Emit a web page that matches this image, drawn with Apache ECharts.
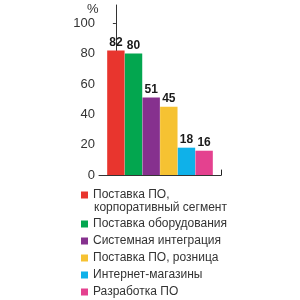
<!DOCTYPE html>
<html><head><meta charset="utf-8">
<script src="https://cdn.jsdelivr.net/npm/echarts@6/dist/echarts.min.js"></script>
<style>html,body{margin:0;padding:0;background:#fff}#c{width:300px;height:300px}</style>
</head><body><div id="c"></div>
<script>
const categories = ["Поставка ПО, корпоративный сегмент", "Поставка оборудования", "Системная интеграция", "Поставка ПО, розница", "Интернет-магазины", "Разработка ПО"];
const firstLegendLine = "Поставка ПО,";
const secondLegendLine = "корпоративный сегмент";
const values = [82, 80, 51, 45, 18, 16];
const colors = ["#e8352e", "#03a64f", "#86318e", "#f6c232", "#0fb1e9", "#e4418f"];
const yTicks = [0, 20, 40, 60, 80, 100];

const FONT = "Liberation Sans";
const NARROW = "'Liberation Sans Narrow', 'Liberation Sans'";
const X_MIN = -0.957, X_MAX = 5.957;
const chart = echarts.init(document.getElementById('c'), null, {renderer: 'canvas'});
const series = categories.map((name, i) => ({
  type: 'bar', name: name, stack: 'all', barWidth: 17.4,
  xAxisIndex: 0, yAxisIndex: 0,
  data: [[i, values[i]]],
  itemStyle: {color: colors[i]},
  label: {show: true, position: 'top', distance: 2, fontFamily: FONT, fontWeight: 'bold', fontSize: 12, color: '#1a1a1a', formatter: p => String(p.value[1])}
}));
const legendText = {fontFamily: FONT, fontSize: 12, color: '#333', lineHeight: 14};
const hidden = {show: false};
chart.setOption({
  animation: false,
  title: [
    {text: '%', left: 87, top: 3, padding: 0, textStyle: {fontFamily: NARROW, fontSize: 13, fontWeight: 'normal', color: '#333'}},
    {text: secondLegendLine, left: 94, top: 201, padding: 0, textStyle: Object.assign({fontWeight: 'normal'}, legendText)}
  ],
  grid: [
    {left: 99, right: 79, top: 5, bottom: 125},
    {left: 99, right: 79, top: 170, bottom: 125}
  ],
  xAxis: [
    {gridIndex: 0, type: 'value', min: X_MIN, max: X_MAX, splitLine: hidden,
      axisLine: {show: true, lineStyle: {color: '#333', width: 1}},
      axisLabel: hidden, axisTick: hidden},
    {gridIndex: 1, type: 'value', min: 0, max: 1, show: false}
  ],
  yAxis: [
    {gridIndex: 0, type: 'value', min: 0, max: 112, interval: 20, splitLine: hidden,
      axisLine: {show: true, lineStyle: {color: '#333', width: 1}},
      axisTick: {show: true, length: 3, customValues: yTicks, lineStyle: {color: '#333'}},
      axisLabel: {customValues: yTicks, margin: 4, fontFamily: NARROW, fontSize: 13, color: '#333'}},
    {gridIndex: 1, type: 'value', position: 'right', min: 0, max: 1, splitLine: hidden,
      axisLine: {show: true, onZero: false, lineStyle: {color: '#222', width: 1}},
      axisTick: hidden, axisLabel: hidden}
  ],
  legend: [
    {orient: 'vertical', left: 81, top: 188, padding: 0, itemWidth: 7, itemHeight: 7, itemGap: 3, icon: 'rect',
      textStyle: legendText, data: [categories[0]], formatter: () => firstLegendLine},
    {orient: 'vertical', left: 81, top: 217, padding: 0, itemWidth: 7, itemHeight: 7, itemGap: 3, icon: 'rect',
      textStyle: legendText, data: categories.slice(1)}
  ],
  series: series
});
</script></body></html>
